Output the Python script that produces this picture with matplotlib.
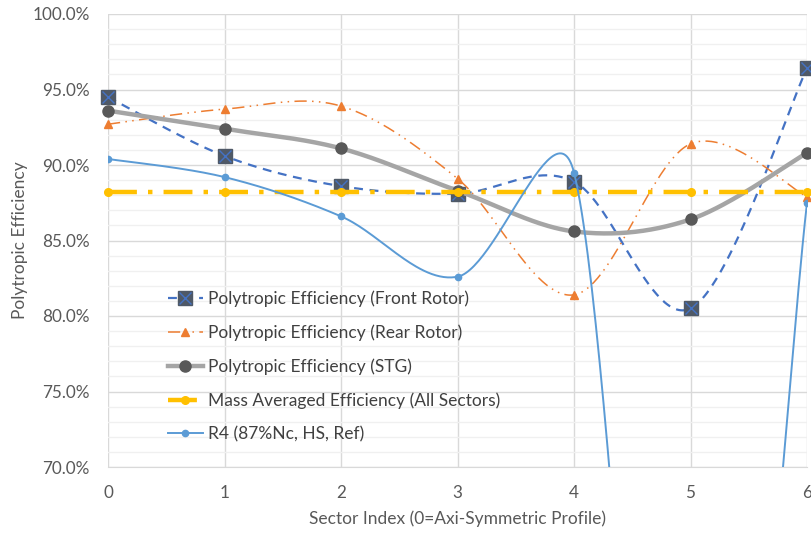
import numpy as np
import matplotlib
matplotlib.use("Agg")
import matplotlib.pyplot as plt
from matplotlib.lines import Line2D
from matplotlib.legend_handler import HandlerTuple

plt.rcParams['font.family'] = ['Lato', 'DejaVu Sans']

# data (percent)
sectors = [0, 1, 2, 3, 4, 5, 6]
front_rotor = [94.5, 90.6, 88.6, 88.1, 88.9, 80.5, 96.4]
rear_rotor = [92.7, 93.7, 93.9, 89.1, 81.4, 91.4, 87.9]
stg = [93.6, 92.4, 91.1, 88.3, 85.6, 86.4, 90.8]
mass_avg = [88.2, 88.2, 88.2, 88.2, 88.2, 88.2, 88.2]
r4 = [90.4, 89.2, 86.6, 82.6, 89.5, 21.0, 87.5]

labels = ['Polytropic Efficiency (Front Rotor)',
          'Polytropic Efficiency (Rear Rotor)',
          'Polytropic Efficiency (STG)',
          'Mass Averaged Efficiency (All Sectors)',
          'R4 (87%Nc, HS, Ref)']

# pixel scale of the plot area, used for the spreadsheet-style smoothing
SX, SY = 699 / 6.0, 453 / 30.0


def smooth(xs, ys, n=60):
    p = np.column_stack([np.asarray(xs, float) * SX, np.asarray(ys, float) * SY])
    out = []
    for i in range(len(p) - 1):
        p1, p2 = p[i], p[i + 1]
        p0 = p[i - 1] if i > 0 else p1
        p3 = p[i + 2] if i + 2 < len(p) else p2
        d02 = np.linalg.norm(p2 - p0)
        d12 = np.linalg.norm(p2 - p1)
        d13 = np.linalg.norm(p3 - p1)
        f1 = 1 / 6 if d02 / 6 < d12 / 2 else d12 / (2 * d02)
        f2 = 1 / 6 if d13 / 6 < d12 / 2 else d12 / (2 * d13)
        b1 = p1 + (p2 - p0) * f1
        b2 = p2 - (p3 - p1) * f2
        t = np.linspace(0, 1, n)[:, None]
        seg = ((1 - t) ** 3 * p1 + 3 * (1 - t) ** 2 * t * b1
               + 3 * (1 - t) * t ** 2 * b2 + t ** 3 * p2)
        out.append(seg if i == 0 else seg[1:])
    pts = np.vstack(out)
    return pts[:, 0] / SX, pts[:, 1] / SY


fig = plt.figure(figsize=(8.11, 5.33), dpi=100)
ax = fig.add_axes([108 / 811, 66 / 533, 699 / 811, 453 / 533])

blue_dash = (0, (4, 3))
orange_dd = (0, (8, 3.5, 1, 3.5, 1, 3.5))
yellow_dd = (0, (6.5, 2.5, 1, 2.5))

# front rotor
sx, sy = smooth(sectors, front_rotor)
ax.plot(sx, sy, color='#4472C4', lw=1.6, ls=blue_dash, zorder=3)
ax.plot(sectors, front_rotor, ls='none', marker='s', ms=10, mfc='#4F5967',
        mec='#4F5967', zorder=4, clip_on=False)
ax.plot(sectors, front_rotor, ls='none', marker='x', ms=9, mew=1.0,
        color='#4472C4', zorder=4.1, clip_on=False)

# rear rotor
sx, sy = smooth(sectors, rear_rotor)
ax.plot(sx, sy, color='#ED7D31', lw=1.1, ls=orange_dd, zorder=5)
ax.plot(sectors, rear_rotor, ls='none', marker='^', ms=6, color='#ED7D31',
        zorder=5, clip_on=False)

# STG
sx, sy = smooth(sectors, stg)
ax.plot(sx, sy, color='#A5A5A5', lw=3.2, zorder=6, solid_capstyle='round')
ax.plot(sectors, stg, ls='none', marker='o', ms=8, color='#595959',
        zorder=6, clip_on=False)

# mass averaged
sx, sy = smooth(sectors, mass_avg)
ax.plot(sx, sy, color='#FFC000', lw=3.2, ls=yellow_dd, zorder=7)
ax.plot(sectors, mass_avg, ls='none', marker='o', ms=5.5, color='#FFC000',
        zorder=7, clip_on=False)

# R4
sx, sy = smooth(sectors, r4)
ax.plot(sx, sy, color='#5B9BD5', lw=1.4, zorder=8)
ax.plot(sectors, r4, ls='none', marker='o', ms=4.5, color='#5B9BD5',
        zorder=8)

ax.set_xlim(0, 6)
ax.set_ylim(70, 100)
ax.set_xticks(sectors)
ax.set_yticks(np.arange(70, 101, 5))
ax.set_yticks(np.arange(70, 101, 1), minor=True)
ax.set_yticklabels([f'{v:.1f}%' for v in np.arange(70, 101, 5)])
ax.grid(True, which='major', color='#D9D9D9', lw=1.0)
ax.grid(True, which='minor', axis='y', color='#F0F0F0', lw=1.0)
ax.set_axisbelow(True)
ax.tick_params(which='both', length=0, labelsize=12.3, labelcolor='#595959')
ax.tick_params(axis='x', pad=13)
ax.tick_params(axis='y', pad=13)
for s in ['top', 'left', 'right']:
    ax.spines[s].set_visible(False)
ax.spines['bottom'].set_color('#D9D9D9')

ax.set_xlabel('Sector Index (0=Axi-Symmetric Profile)', fontsize=12.5,
              color='#595959', labelpad=7)
ax.set_ylabel('Polytropic Efficiency', fontsize=12.5, color='#595959',
              labelpad=3)

h_front = (Line2D([], [], color='#4472C4', lw=1.6, ls=blue_dash, marker='s',
                  ms=10, mfc='#4F5967', mec='#4F5967'),
           Line2D([], [], ls='none', marker='x', ms=9, mew=1.0, color='#4472C4'))
h_rear = Line2D([], [], color='#ED7D31', lw=1.1, ls=orange_dd, marker='^', ms=6)
h_stg = Line2D([], [], color='#A5A5A5', lw=3.2, marker='o', ms=8,
               mfc='#595959', mec='#595959')
h_mass = Line2D([], [], color='#FFC000', lw=3.2, ls=yellow_dd, marker='o', ms=5.5)
h_r4 = Line2D([], [], color='#5B9BD5', lw=1.4, marker='o', ms=4.5)

leg = ax.legend([h_front, h_rear, h_stg, h_mass, h_r4], labels,
                handler_map={tuple: HandlerTuple(ndivide=1, pad=0)},
                loc='upper left', bbox_to_anchor=(0.076, 0.405),
                frameon=False, fontsize=12.5, labelspacing=1.0,
                handlelength=2.0, handletextpad=0.3, borderaxespad=0)
for t in leg.get_texts():
    t.set_color('#404040')

fig.savefig('out.png', dpi=100)
